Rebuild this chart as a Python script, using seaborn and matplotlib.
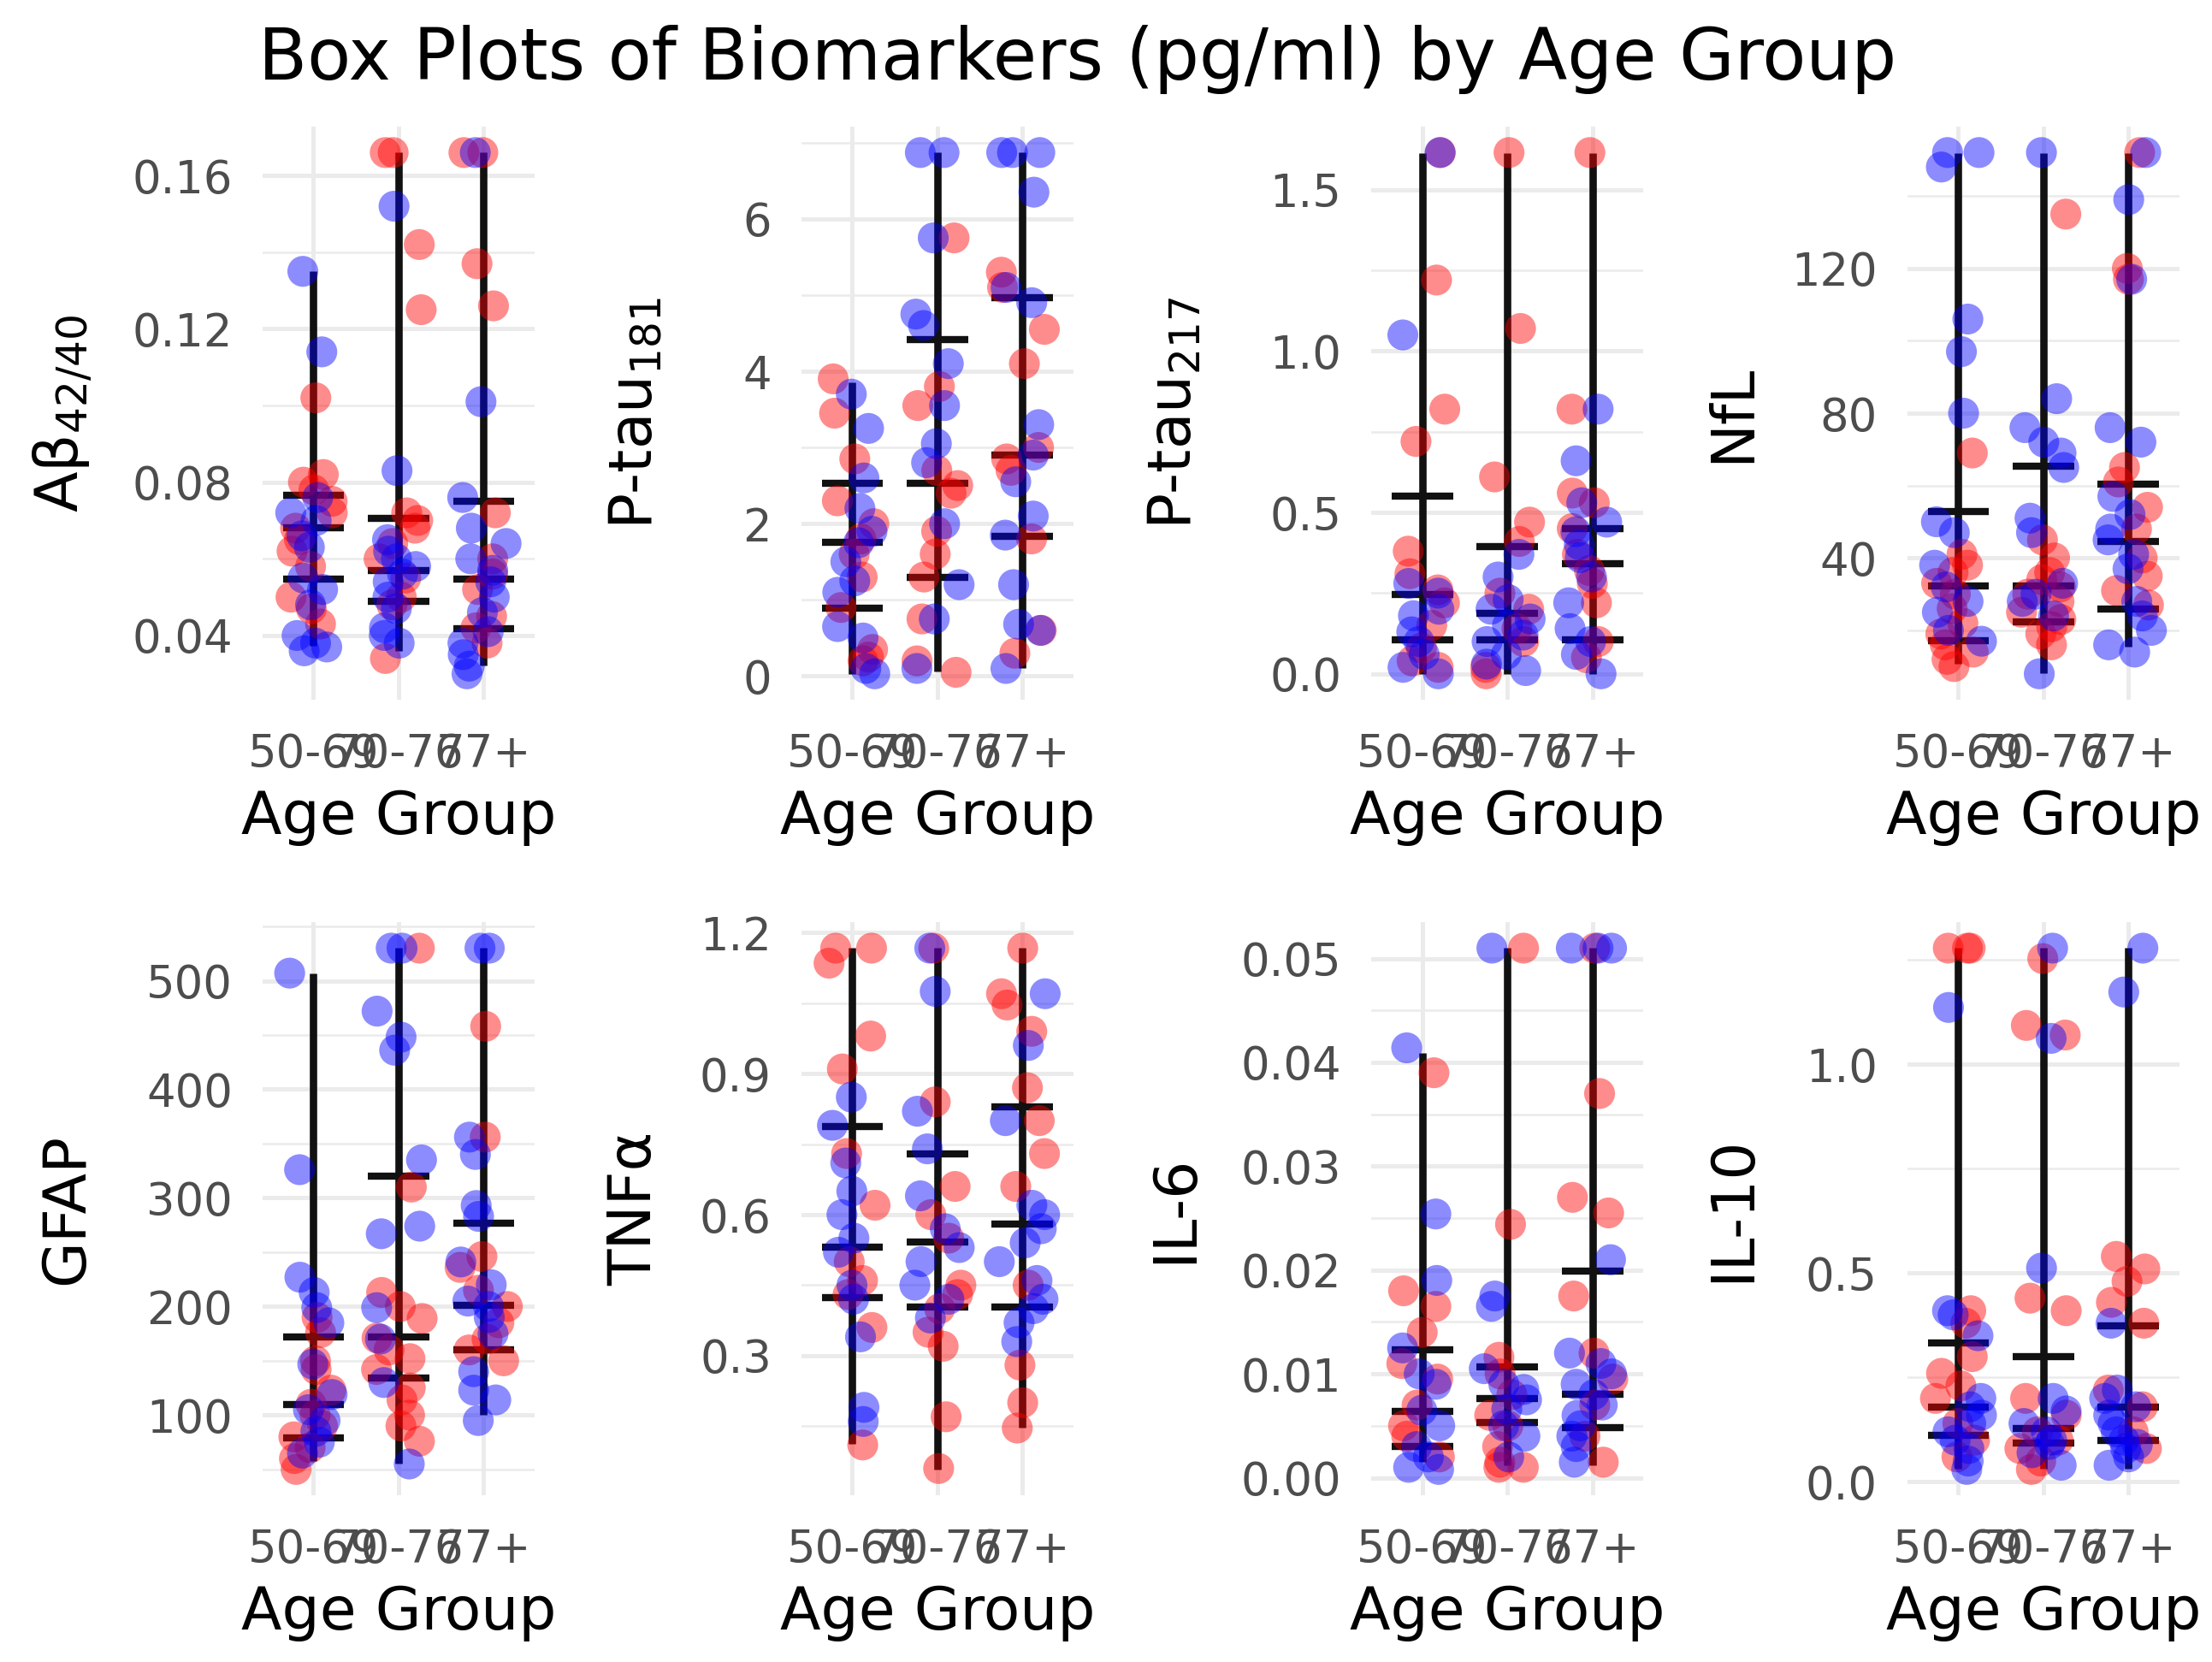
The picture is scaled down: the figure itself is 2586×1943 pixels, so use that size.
import numpy as np
import pandas as pd
import matplotlib
matplotlib.use('Agg')
import matplotlib.pyplot as plt
from matplotlib.ticker import FixedLocator, AutoMinorLocator, FormatStrFormatter
import seaborn as sns

age_groups = ['50-69', '70-76', '77+']

# values: one list per age group, red and blue points
ab_red = [[0.102, 0.082, 0.080, 0.078, 0.075, 0.072, 0.068, 0.065, 0.062, 0.058, 0.050, 0.047, 0.043],
          [0.166, 0.166, 0.142, 0.125, 0.072, 0.070, 0.068, 0.064, 0.060, 0.055, 0.050, 0.048, 0.034],
          [0.166, 0.166, 0.137, 0.126, 0.072, 0.060, 0.056, 0.052, 0.045, 0.042, 0.038]]
ab_blue = [[0.135, 0.114, 0.076, 0.072, 0.070, 0.066, 0.063, 0.055, 0.052, 0.048, 0.040, 0.038, 0.037, 0.036],
           [0.152, 0.083, 0.065, 0.062, 0.060, 0.058, 0.056, 0.054, 0.050, 0.047, 0.042, 0.040, 0.038],
           [0.166, 0.101, 0.076, 0.068, 0.064, 0.060, 0.057, 0.054, 0.050, 0.046, 0.041, 0.038, 0.035, 0.032, 0.030]]
# lo, q1, median, q3, hi per age group
ab_box = [[0.0372, 0.036, 0.0322], [0.0547, 0.049, 0.0417], [0.0682, 0.057, 0.0547],
          [0.0766, 0.0705, 0.0751], [0.1351, 0.166, 0.166]]

p181_red = [[3.9, 3.45, 2.85, 2.3, 2.0, 1.8, 1.6, 1.3, 0.9, 0.35, 0.25, 0.2],
            [5.75, 3.8, 3.55, 2.7, 2.5, 2.4, 1.9, 1.6, 1.3, 0.75, 0.2, 0.05],
            [5.3, 5.1, 4.55, 4.1, 3.0, 2.85, 2.7, 1.8, 0.6, 0.3]]
p181_blue = [[3.7, 3.25, 2.6, 2.2, 1.9, 1.75, 1.5, 1.25, 1.1, 0.65, 0.5, 0.1, 0.03],
             [6.87, 6.87, 5.75, 4.75, 4.6, 4.1, 3.55, 3.05, 2.8, 2.0, 1.2, 0.75, 0.1],
             [6.87, 6.87, 6.87, 6.35, 5.1, 4.9, 3.3, 2.9, 2.55, 2.1, 1.85, 1.2, 0.68, 0.6, 0.1]]
p181_box = [[0.03, 0.06, 0.10], [0.89, 1.30, 1.83], [1.76, 2.53, 2.90],
            [2.53, 4.42, 4.97], [3.85, 6.87, 6.87]]

p217_red = [[1.615, 1.22, 0.82, 0.72, 0.38, 0.31, 0.26, 0.22, 0.15, 0.08, 0.04, 0.02],
            [1.615, 1.07, 0.61, 0.47, 0.41, 0.25, 0.2, 0.14, 0.1, 0.02, 0.0],
            [1.615, 0.82, 0.56, 0.53, 0.45, 0.37, 0.32, 0.28, 0.22, 0.1, 0.05]]
p217_blue = [[1.615, 1.05, 0.28, 0.25, 0.2, 0.18, 0.13, 0.1, 0.06, 0.02, 0.0],
             [0.37, 0.3, 0.23, 0.2, 0.17, 0.15, 0.12, 0.1, 0.06, 0.03, 0.01],
             [0.82, 0.66, 0.53, 0.47, 0.44, 0.4, 0.36, 0.3, 0.22, 0.14, 0.1, 0.06, 0.0]]
p217_box = [[0.0, 0.0, 0.0], [0.106, 0.106, 0.106], [0.246, 0.188, 0.34],
            [0.55, 0.394, 0.451], [1.614, 1.614, 1.614]]

nfl_red = [[69, 41, 38, 36, 33, 30, 26, 22, 19, 16, 14, 12, 10],
           [135, 45, 40, 36, 34, 32, 30, 28, 25, 23, 21, 19, 16],
           [152, 120, 117, 65, 61, 54, 48, 40, 35, 31, 27]]
nfl_blue = [[152, 152, 148, 106, 97, 80, 50, 47, 38, 32, 28, 25, 20, 17],
            [152, 84, 76, 72, 69, 65, 51, 47, 33, 30, 28, 24, 8],
            [152, 139, 117, 76, 72, 57, 52, 48, 45, 41, 37, 28, 24, 20, 16, 14]]
nfl_box = [[10.8, 8.1, 15.6], [17.2, 22.4, 25.8], [32.3, 32.3, 44.5],
           [52.9, 65.4, 60.3], [151.9, 151.9, 151.9]]

gfap_red = [[190, 176, 150, 142, 123, 110, 100, 90, 80, 70, 60, 50],
            [530, 310, 213, 200, 189, 171, 160, 152, 142, 125, 114, 100, 90, 76],
            [458, 356, 246, 236, 215, 200, 185, 170, 160, 150]]
gfap_blue = [[507, 326, 227, 213, 199, 185, 147, 119, 105, 95, 85, 75, 65],
             [530, 530, 472, 448, 436, 335, 274, 267, 199, 170, 130, 55],
             [530, 530, 356, 340, 293, 283, 241, 220, 205, 200, 190, 175, 140, 123, 114, 95]]
gfap_box = [[57.6, 55.3, 100], [78.8, 133.9, 159.8], [109.4, 172, 201],
            [172, 319.8, 276.5], [507, 530, 530]]

tnf_red = [[1.167, 1.167, 1.135, 0.98, 0.91, 0.73, 0.62, 0.5, 0.46, 0.43, 0.36, 0.11],
           [1.167, 0.84, 0.66, 0.6, 0.55, 0.45, 0.43, 0.4, 0.35, 0.32, 0.17, 0.06],
           [1.167, 1.07, 1.046, 0.99, 0.87, 0.8, 0.73, 0.66, 0.45, 0.28, 0.2, 0.146]]
tnf_blue = [[0.85, 0.79, 0.71, 0.65, 0.6, 0.55, 0.52, 0.45, 0.42, 0.34, 0.19, 0.16],
            [1.167, 1.075, 0.82, 0.74, 0.64, 0.57, 0.53, 0.5, 0.45, 0.42, 0.38],
            [1.07, 0.96, 0.8, 0.62, 0.6, 0.57, 0.54, 0.5, 0.46, 0.42, 0.4, 0.37, 0.33]]
tnf_box = [[0.113, 0.058, 0.146], [0.424, 0.404, 0.404], [0.53, 0.541, 0.58],
           [0.788, 0.73, 0.83], [1.167, 1.167, 1.167]]

il6_red = [[0.039, 0.018, 0.0165, 0.014, 0.011, 0.0095, 0.007, 0.005, 0.004, 0.002],
           [0.051, 0.0244, 0.0116, 0.010, 0.008, 0.006, 0.005, 0.003, 0.0015, 0.001, 0.001],
           [0.051, 0.037, 0.027, 0.0255, 0.0175, 0.012, 0.0095, 0.007, 0.004, 0.0015]]
il6_blue = [[0.0414, 0.0254, 0.019, 0.0125, 0.010, 0.009, 0.0065, 0.005, 0.003, 0.002, 0.001, 0.0008],
            [0.051, 0.0175, 0.0165, 0.0105, 0.009, 0.0085, 0.0075, 0.0066, 0.005, 0.004, 0.002],
            [0.051, 0.051, 0.051, 0.021, 0.012, 0.011, 0.010, 0.009, 0.008, 0.007, 0.006, 0.005, 0.004, 0.003, 0.0015]]
il6_box = [[0.0015, 0.0012, 0.0012], [0.003, 0.0053, 0.0048], [0.0064, 0.0076, 0.008],
           [0.0123, 0.0107, 0.0199], [0.0409, 0.051, 0.051]]

il10_red = [[1.278, 1.278, 1.278, 0.41, 0.38, 0.3, 0.26, 0.23, 0.2, 0.14, 0.1, 0.06],
            [1.253, 1.093, 1.07, 0.44, 0.41, 0.2, 0.16, 0.12, 0.1, 0.08, 0.05, 0.03],
            [0.54, 0.51, 0.48, 0.43, 0.38, 0.22, 0.18, 0.12, 0.08]]
il10_blue = [[1.136, 0.41, 0.4, 0.35, 0.2, 0.18, 0.16, 0.14, 0.12, 0.1, 0.08, 0.05, 0.03],
             [1.278, 1.062, 0.512, 0.2, 0.17, 0.14, 0.12, 0.1, 0.09, 0.07, 0.04],
             [1.278, 1.173, 0.38, 0.22, 0.2, 0.18, 0.16, 0.14, 0.12, 0.1, 0.09, 0.08, 0.06, 0.04]]
il10_box = [[0.031, 0.031, 0.031], [0.111, 0.093, 0.099], [0.179, 0.127, 0.179],
            [0.333, 0.3, 0.374], [1.278, 1.278, 1.278]]

labels = ['Aβ$_{42/40}$', 'P-tau$_{181}$', 'P-tau$_{217}$', 'NfL', 'GFAP', 'TNFα', 'IL-6', 'IL-10']
ticks = [[0.04, 0.08, 0.12, 0.16], [0, 2, 4, 6], [0.0, 0.5, 1.0, 1.5], [40, 80, 120],
         [100, 200, 300, 400, 500], [0.3, 0.6, 0.9, 1.2], [0.00, 0.01, 0.02, 0.03, 0.04, 0.05],
         [0.0, 0.5, 1.0]]
decimals = [2, 0, 1, 0, 0, 1, 2, 1]

panels = [(ab_red, ab_blue, ab_box), (p181_red, p181_blue, p181_box), (p217_red, p217_blue, p217_box),
          (nfl_red, nfl_blue, nfl_box), (gfap_red, gfap_blue, gfap_box), (tnf_red, tnf_blue, tnf_box),
          (il6_red, il6_blue, il6_box), (il10_red, il10_blue, il10_box)]

sns.set_theme(style='white')
plt.rcParams['font.family'] = ['DejaVu Sans']
plt.rcParams['mathtext.default'] = 'regular'
np.random.seed(3)

fig = plt.figure(figsize=(12.93, 9.715), dpi=200)

# layout (figure fractions)
lefts = [0.1186, 0.3622, 0.6199, 0.8622]
width = 0.1231
bottoms = [0.5789, 0.1002]
height = 0.345
ylab_x = [[0.0287, 0.2870, 0.531, 0.7832], [0.030, 0.2870, 0.531, 0.7832]]

for i, (red, blue, box) in enumerate(panels):
    r, c = divmod(i, 4)
    ax = fig.add_axes([lefts[c], bottoms[r], width, height])

    rows = []
    for g, vals in zip(age_groups, red):
        rows += [(g, 'red', v) for v in vals]
    for g, vals in zip(age_groups, blue):
        rows += [(g, 'blue', v) for v in vals]
    df = pd.DataFrame(rows, columns=['age_group', 'colour', 'value'])

    pos = np.arange(len(age_groups))
    lo, q1, med, q3, hi = box
    ax.vlines(pos, lo, hi, color='#111111', lw=3.1, zorder=2)
    for q in (q1, med, q3):
        ax.hlines(q, pos - 0.36, pos + 0.36, color='#111111', lw=3.0, zorder=2)

    sns.stripplot(data=df, x='age_group', y='value', hue='colour', order=age_groups,
                  hue_order=['red', 'blue'], palette={'red': 'red', 'blue': 'blue'},
                  jitter=0.28, size=13, alpha=0.45, linewidth=0, legend=False, ax=ax, zorder=3)

    vmin = min(df['value'].min(), min(lo))
    vmax = max(df['value'].max(), max(hi))
    pad = (vmax - vmin) * 0.05
    ax.set_ylim(vmin - pad, vmax + pad)
    ax.set_xlim(-0.6, 2.6)

    ax.yaxis.set_major_locator(FixedLocator(ticks[i]))
    ax.yaxis.set_major_formatter(FormatStrFormatter('%.' + str(decimals[i]) + 'f'))
    ax.yaxis.set_minor_locator(AutoMinorLocator(2))

    ax.set_axisbelow(True)
    ax.grid(True, which='major', color='#EBEBEB', lw=1.8)
    ax.grid(True, which='minor', axis='y', color='#EBEBEB', lw=0.9)
    for s in ax.spines.values():
        s.set_visible(False)
    ax.tick_params(axis='both', which='both', length=0, labelsize=19, labelcolor='#4D4D4D')
    ax.tick_params(axis='x', pad=13.5)
    ax.tick_params(axis='y', pad=12.5)

    ax.set_xlabel('Age Group', fontsize=25, labelpad=5, color='black')
    ax.set_ylabel(labels[i], fontsize=25, va='center', color='black')
    ax.yaxis.set_label_coords(ylab_x[r][c], bottoms[r] + height / 2, transform=fig.transFigure)

fig.text(0.487, 0.952, 'Box Plots of Biomarkers (pg/ml) by Age Group', ha='center', va='baseline',
         fontsize=30, color='black')

fig.savefig('out.png', dpi=200)
